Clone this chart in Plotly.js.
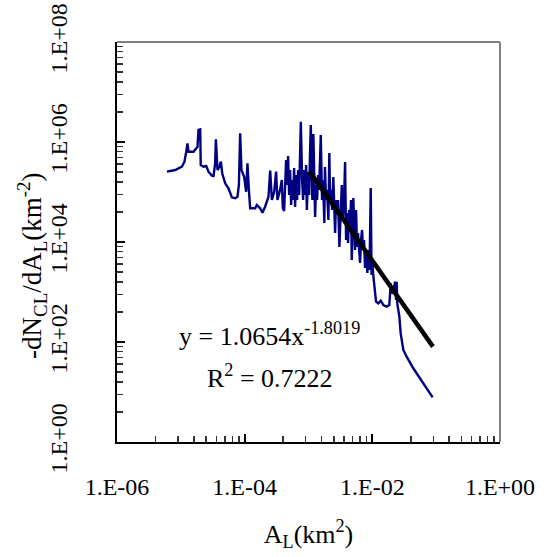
<!DOCTYPE html>
<html>
<head>
<meta charset="utf-8">
<script src="https://cdn.plot.ly/plotly-3.0.1.min.js"></script>
<style>html,body{margin:0;padding:0;background:#fff;}#chart{width:547px;height:557px;}</style>
</head>
<body>
<div id="chart"></div>
<script>
// Blue curve: -dN_CL/dA_L vs A_L (km^2)
var areaKm2 = [
  6.06e-6, 8.17e-6, 1.04e-5, 1.14e-5, 1.215e-5, 1.27e-5, 1.32e-5, 1.58e-5, 1.825e-5, 1.89e-5,
  2.01e-5, 2.05e-5, 2.27e-5, 2.50e-5, 2.71e-5, 3.07e-5, 3.25e-5, 3.45e-5, 3.54e-5, 3.75e-5,
  4.03e-5, 4.24e-5, 4.45e-5, 4.95e-5, 5.58e-5, 6.30e-5, 7.10e-5, 7.72e-5, 8.12e-5, 8.50e-5,
  8.91e-5, 9.82e-5, 1.055e-4, 1.106e-4, 1.163e-4, 1.22e-4, 1.46e-4, 1.55e-4, 1.75e-4, 1.90e-4,
  2.09e-4, 2.36e-4, 2.51e-4, 2.67e-4, 2.90e-4, 3.11e-4, 3.26e-4, 3.59e-4, 3.82e-4, 3.96e-4,
  4.15e-4, 4.30e-4, 4.46e-4, 4.62e-4, 4.79e-4, 4.97e-4, 5.15e-4, 5.34e-4, 5.54e-4, 5.74e-4,
  5.95e-4, 6.17e-4, 6.40e-4, 6.63e-4, 6.88e-4, 7.13e-4, 7.39e-4, 7.58e-4, 7.95e-4, 8.24e-4,
  8.54e-4, 8.86e-4, 9.18e-4, 9.42e-4, 9.87e-4, 1.023e-3, 1.059e-3, 1.086e-3, 1.149e-3, 1.193e-3,
  1.269e-3, 1.315e-3, 1.363e-3, 1.413e-3, 1.465e-3, 1.557e-3, 1.63e-3, 1.69e-3, 1.77e-3, 1.81e-3,
  1.88e-3, 1.95e-3, 2.05e-3, 2.12e-3, 2.18e-3, 2.26e-3, 2.34e-3, 2.45e-3, 2.61e-3, 2.70e-3,
  2.80e-3, 2.90e-3, 3.05e-3, 3.32e-3, 3.48e-3, 3.61e-3, 3.74e-3, 3.88e-3, 4.02e-3, 4.17e-3,
  4.32e-3, 4.48e-3, 4.64e-3, 4.76e-3, 5.04e-3, 5.36e-3, 5.56e-3, 5.76e-3, 5.97e-3, 6.19e-3,
  6.42e-3, 6.66e-3, 6.90e-3, 7.15e-3, 7.42e-3, 7.69e-3, 7.97e-3, 8.35e-3, 8.72e-3, 9.04e-3,
  9.44e-3, 9.72e-3, 1.007e-2, 1.037e-2, 1.063e-2, 1.143e-2, 1.241e-2, 1.353e-2, 1.486e-2, 1.68e-2,
  1.845e-2, 1.94e-2, 2.01e-2, 2.13e-2, 2.27e-2, 2.35e-2, 2.41e-2, 2.46e-2, 2.65e-2, 2.78e-2,
  3.06e-2, 3.45e-2, 4.38e-2, 6.28e-2, 8.81e-2
];
var density = [
  2.55e5, 2.75e5, 3.21e5, 4.04e5, 6.40e5, 9.42e5, 6.40e5, 6.40e5, 8.05e5, 1.74e6,
  1.79e6, 3.47e5, 3.21e5, 3.31e5, 2.55e5, 2.12e5, 2.09e5, 3.75e5, 1.13e6, 2.75e5,
  3.21e5, 4.04e5, 2.37e5, 1.49e5, 1.19e5, 7.83e4, 7.48e4, 8.05e4, 1.38e5, 1.49e6,
  2.75e5, 2.02e5, 1.01e5, 3.75e5, 1.10e5, 4.72e4, 4.72e4, 5.50e4, 4.72e4, 3.85e4,
  5.08e4, 8.05e4, 2.67e5, 6.92e4, 1.01e5, 2.55e5, 6.92e4, 1.10e5, 1.74e5, 4.72e4,
  4.17e4, 1.74e5, 4.37e5, 1.38e5, 5.25e5, 8.71e4, 2.75e5, 5.50e4, 1.74e5, 6.92e4,
  3.02e5, 5.01e4, 2.19e5, 6.92e4, 2.75e5, 8.71e4, 4.37e5, 2.55e6, 1.74e5, 6.92e4,
  2.75e5, 8.71e4, 3.47e5, 4.37e4, 2.51e5, 8.71e4, 6.92e5, 2.19e6, 6.92e4, 1.45e6,
  3.16e4, 1.38e5, 6.92e4, 2.19e5, 1.10e5, 1.38e6, 6.92e4, 1.74e5, 2.40e4, 3.16e5,
  6.92e4, 1.10e5, 2.75e4, 6.03e5, 6.92e4, 1.10e5, 4.37e4, 2.00e5, 1.51e4, 6.92e4,
  3.47e4, 6.92e4, 7.94e3, 1.38e5, 3.16e4, 6.92e4, 3.98e5, 1.10e4, 3.80e4, 9.55e3,
  4.37e4, 1.91e4, 6.92e4, 4.37e3, 7.59e4, 6.92e3, 4.37e4, 7.94e3, 1.51e4, 5.50e3,
  3.80e3, 1.10e4, 1.74e4, 6.92e3, 1.10e4, 3.02e3, 6.92e3, 2.40e3, 6.92e3, 2.75e3,
  1.20e5, 2.19e3, 3.47e3, 2.09e3, 1.49e3, 640, 594, 670, 550, 508,
  550, 1.49e3, 942, 1.01e3, 1.61e3, 692, 1.61e3, 594, 321, 149,
  69.2, 50.8, 29.8, 14.9, 7.83
];
// Power-law trend line y = 1.0654 x^-1.8019 (end points)
var trendX = [1.03e-3, 8.9e-2];
var trendY = [2.6e5, 81];

// Axis ticks
var xTickVals = [1e-6, 1e-4, 1e-2, 1];
var xTickText = ['1.E-06', '1.E-04', '1.E-02', '1.E+00'];
var yTickVals = [1, 1e2, 1e4, 1e6, 1e8];
var yTickText = ['1.E+00', '1.E+02', '1.E+04', '1.E+06', '1.E+08'];

function minorVals(majors) {
  var out = [];
  for (var i = 0; i < majors.length - 1; i++) {
    for (var k = 2; k <= 9; k++) out.push(majors[i] * k * k);
  }
  return out;
}

var FONT = 'Liberation Serif, Times New Roman, serif';

var traces = [
  {
    x: areaKm2, y: density, type: 'scatter', mode: 'lines',
    line: {color: '#000080', width: 2.4}, hoverinfo: 'skip'
  },
  {
    x: trendX, y: trendY, type: 'scatter', mode: 'lines',
    line: {color: '#000000', width: 4.5}, hoverinfo: 'skip'
  }
];

var layout = {
  width: 547, height: 557,
  margin: {l: 117, r: 47, t: 42, b: 115, pad: 0},
  paper_bgcolor: '#ffffff', plot_bgcolor: '#ffffff',
  showlegend: false,
  font: {family: FONT, color: '#000', size: 22},
  xaxis: {
    type: 'log', range: [-6, 0], autorange: false,
    tickmode: 'array', tickvals: xTickVals, ticktext: xTickText,
    ticks: 'inside', ticklen: 8, tickwidth: 2, tickcolor: '#000',
    showline: true, linecolor: '#000', linewidth: 2, mirror: false,
    showgrid: false, zeroline: false,
    tickfont: {family: FONT, size: 24, color: '#000'},
    ticklabelstandoff: 22,
    minor: {tickmode: 'array', tickvals: minorVals(xTickVals), ticks: 'inside', ticklen: 6, tickwidth: 1.5, tickcolor: '#333', showgrid: false},
    title: {text: 'A<sub>L</sub>(km<sup>2</sup>)', font: {family: FONT, size: 26, color: '#000'}, standoff: 26},
    automargin: false
  },
  yaxis: {
    type: 'log', range: [0, 8], autorange: false,
    tickmode: 'array', tickvals: yTickVals, ticktext: yTickText,
    tickangle: -90,
    ticks: 'inside', ticklen: 8, tickwidth: 2, tickcolor: '#000',
    showline: true, linecolor: '#000', linewidth: 2, mirror: false,
    showgrid: false, zeroline: false,
    tickfont: {family: FONT, size: 24, color: '#000'},
    ticklabelstandoff: 38,
    minor: {tickmode: 'array', tickvals: minorVals(yTickVals), ticks: 'inside', ticklen: 6, tickwidth: 1.5, tickcolor: '#333', showgrid: false},
    automargin: false
  },
  shapes: [
    {type: 'line', xref: 'paper', yref: 'paper', x0: 0, x1: 1, y0: 1, y1: 1, line: {color: '#808080', width: 2}},
    {type: 'line', xref: 'paper', yref: 'paper', x0: 1, x1: 1, y0: 0, y1: 1, line: {color: '#808080', width: 2}}
  ],
  annotations: [
    {
      text: '-dN<sub>CL</sub>/dA<sub>L</sub>(km<sup>-2</sup>)', textangle: -90,
      xref: 'paper', yref: 'paper', x: -0.222, y: 0.44, xanchor: 'center', yanchor: 'middle',
      showarrow: false, font: {family: FONT, size: 27, color: '#000'}
    },
    {
      text: 'y = 1.0654x<sup>-1.8019</sup>',
      xref: 'paper', yref: 'paper', x: 0.397, y: 0.27, xanchor: 'center', yanchor: 'middle',
      showarrow: false, font: {family: FONT, size: 26, color: '#000'}
    },
    {
      text: 'R<sup>2</sup> = 0.7222',
      xref: 'paper', yref: 'paper', x: 0.40, y: 0.165, xanchor: 'center', yanchor: 'middle',
      showarrow: false, font: {family: FONT, size: 26, color: '#000'}
    }
  ]
};

Plotly.newPlot('chart', traces, layout, {displayModeBar: false, staticPlot: true});
</script>
</body>
</html>
